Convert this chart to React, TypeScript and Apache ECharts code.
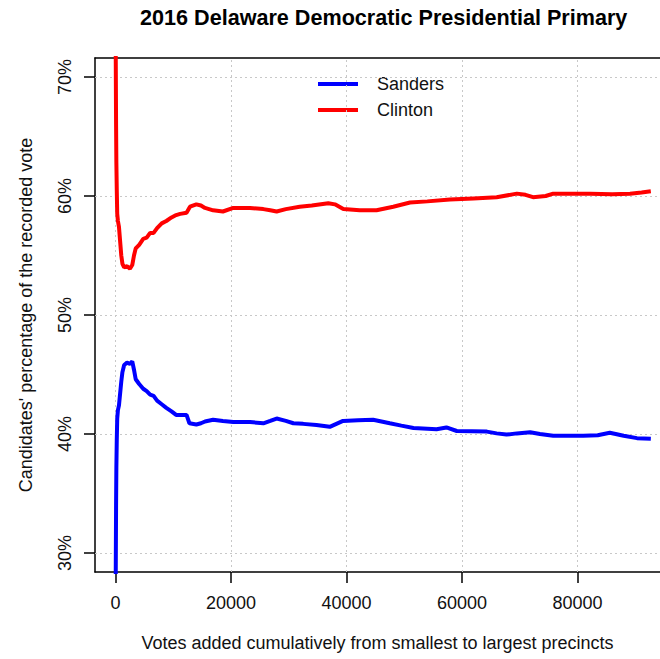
import React, { useEffect, useRef } from "react";
import * as echarts from "echarts";

const TITLE = "2016 Delaware Democratic Presidential Primary";
const X_TITLE = "Votes added cumulatively from smallest to largest precincts";
const Y_TITLE = "Candidates' percentage of the recorded vote";
const FONT = "'Liberation Sans', Arial, Helvetica, sans-serif";

const xTicks = [0, 20000, 40000, 60000, 80000];
const yTicks = [30, 40, 50, 60, 70];

const sandersVotes = [
  0, 40, 100, 150, 220, 300, 420, 600, 800, 1000, 1200, 1500, 2000, 2500, 2900,
  3200, 3500, 4100, 4800, 5400, 6000, 6600, 7200, 8000, 8800, 9700, 10500, 11200,
  12300, 12800, 14000, 14800, 15500, 16900, 18600, 20400, 23300, 25600, 26800,
  27900, 29500, 30800, 32500, 34800, 37100, 39400, 42000, 44600, 47500, 49500,
  51600, 55600, 57300, 59100, 64300, 66000, 67700, 69500, 71800, 73500, 75800,
  81000, 83500, 85600, 88000, 90300, 92700,
];
const sandersPct = [
  10, 28, 34, 37.2, 39.5, 41.3, 42.0, 42.4, 43.4, 44.4, 45.2, 45.8, 46.0, 45.9, 46.1,
  45.4, 44.6, 44.2, 43.8, 43.6, 43.3, 43.2, 42.8, 42.5, 42.2, 41.9, 41.6, 41.6,
  41.6, 40.9, 40.8, 40.9, 41.05, 41.2, 41.1, 41.0, 41.0, 40.9, 41.1,
  41.3, 41.1, 40.9, 40.85, 40.75, 40.6, 41.1, 41.15, 41.2, 40.9, 40.7,
  40.5, 40.4, 40.55, 40.25, 40.2, 40.05, 39.95, 40.05, 40.15, 40.0, 39.85,
  39.85, 39.9, 40.1, 39.85, 39.65, 39.6,
];

const clintonVotes = [
  0, 40, 100, 150, 220, 300, 420, 600, 800, 1000, 1200, 1500, 2000, 2500, 2900,
  3200, 3500, 4100, 4800, 5400, 6000, 6600, 7200, 8000, 8800, 9700, 10500, 11200,
  12300, 12900, 14000, 14800, 15500, 16900, 18600, 20400, 23300, 25600, 26800,
  27900, 29500, 31900, 34000, 36850, 38000, 39450, 42300, 45200, 48100, 51000,
  54000, 57900, 62000, 66000, 69500, 71000, 72300, 74500, 75800, 79000, 82200,
  86000, 89100, 91100, 92700,
];
const clintonPct = [
  90, 72, 66, 62.8, 60.5, 58.5, 57.9, 57.4, 56.2, 55.0, 54.3, 54.0, 54.1, 53.9, 54.2,
  55.0, 55.6, 55.9, 56.4, 56.5, 56.9, 56.9, 57.3, 57.7, 57.9, 58.2, 58.4, 58.5,
  58.6, 59.1, 59.3, 59.2, 59.0, 58.8, 58.7, 59.0, 59.0, 58.9, 58.8,
  58.7, 58.9, 59.1, 59.2, 59.4, 59.3, 58.9, 58.8, 58.8, 59.1, 59.45,
  59.55, 59.7, 59.8, 59.9, 60.2, 60.1, 59.9, 60.0, 60.2, 60.2, 60.2,
  60.15, 60.2, 60.3, 60.4,
];

const X_MIN = -3550;
const X_MAX = 94290;
const Y_MIN = 28.4;
const Y_MAX = 71.6;

export default function App() {
  const ref = useRef<HTMLDivElement>(null);
  useEffect(() => {
    if (!ref.current) return;
    const chart = echarts.init(ref.current, undefined, { renderer: "svg" });
    const axisLineStyle = { color: "#000", width: 1.5 };
    const option: any = {
      animation: false,
      backgroundColor: "#fff",
      textStyle: { fontFamily: FONT },
      title: {
        text: TITLE,
        left: 140,
        top: 6,
        padding: 0,
        textStyle: { fontSize: 21.6, fontWeight: "bold", color: "#000", fontFamily: FONT },
      },
      legend: {
        orient: "vertical",
        left: 318,
        top: 74,
        padding: 0,
        itemGap: 6,
        itemWidth: 40,
        itemHeight: 4,
        icon: "rect",
        data: ["Sanders", "Clinton"],
        textStyle: { fontSize: 18, lineHeight: 20, padding: [0, 0, 0, 14], color: "#111", fontFamily: FONT },
      },
      grid: { left: 95, right: 0, top: 58, bottom: 87 },
      xAxis: [
        {
          type: "value",
          position: "bottom",
          min: X_MIN,
          max: X_MAX,
          axisLine: { show: true, onZero: false, lineStyle: axisLineStyle },
          axisTick: { show: true, customValues: xTicks, length: 11, lineStyle: axisLineStyle },
          axisLabel: {
            customValues: xTicks,
            fontSize: 18,
            margin: 22,
            color: "#111",
            fontFamily: FONT,
            formatter: (v: number) => String(v),
          },
          splitLine: { show: false },
          name: X_TITLE,
          nameLocation: "middle",
          nameGap: 62,
          nameTextStyle: { fontSize: 18, color: "#111", fontFamily: FONT },
        },
        {
          type: "value",
          position: "top",
          min: X_MIN,
          max: X_MAX,
          axisLine: { show: true, onZero: false, lineStyle: axisLineStyle },
          axisTick: { show: false },
          axisLabel: { show: false },
          splitLine: { show: false },
        },
      ],
      yAxis: {
        type: "value",
        min: Y_MIN,
        max: Y_MAX,
        axisLine: { show: true, onZero: false, lineStyle: axisLineStyle },
        axisTick: { show: true, customValues: yTicks, length: 11, lineStyle: axisLineStyle },
        axisLabel: {
          customValues: yTicks,
          rotate: 90,
          fontSize: 18,
          margin: 21,
          color: "#111",
          fontFamily: FONT,
          formatter: (v: number) => `${v}%`,
        },
        splitLine: { show: false },
        name: Y_TITLE,
        nameLocation: "middle",
        nameRotate: 90,
        nameGap: 60,
        nameTextStyle: { fontSize: 18, color: "#111", fontFamily: FONT },
      },
      series: [
        {
          type: "line",
          data: [],
          silent: true,
          z: 1,
          markLine: {
            silent: true,
            symbol: ["none", "none"],
            label: { show: false },
            lineStyle: { color: "#c8c8c8", type: [2, 3], width: 1 },
            data: [
              ...xTicks.map((v) => ({ xAxis: v })),
              ...yTicks.map((v) => ({ yAxis: v })),
            ],
          },
        },
        {
          name: "Sanders",
          type: "line",
          z: 10,
          symbol: "none",
          color: "#0000ff",
          lineStyle: { color: "#0000ff", width: 4 },
          data: sandersVotes.map((x, i) => [x, sandersPct[i]]),
        },
        {
          name: "Clinton",
          type: "line",
          z: 10,
          symbol: "none",
          color: "#ff0000",
          lineStyle: { color: "#ff0000", width: 4 },
          data: clintonVotes.map((x, i) => [x, clintonPct[i]]),
        },
      ],
    };
    chart.setOption(option);
    return () => chart.dispose();
  }, []);
  return (
    <div
      ref={ref}
      style={{ position: "absolute", left: 0, top: 0, width: 660, height: 659 }}
    />
  );
}
